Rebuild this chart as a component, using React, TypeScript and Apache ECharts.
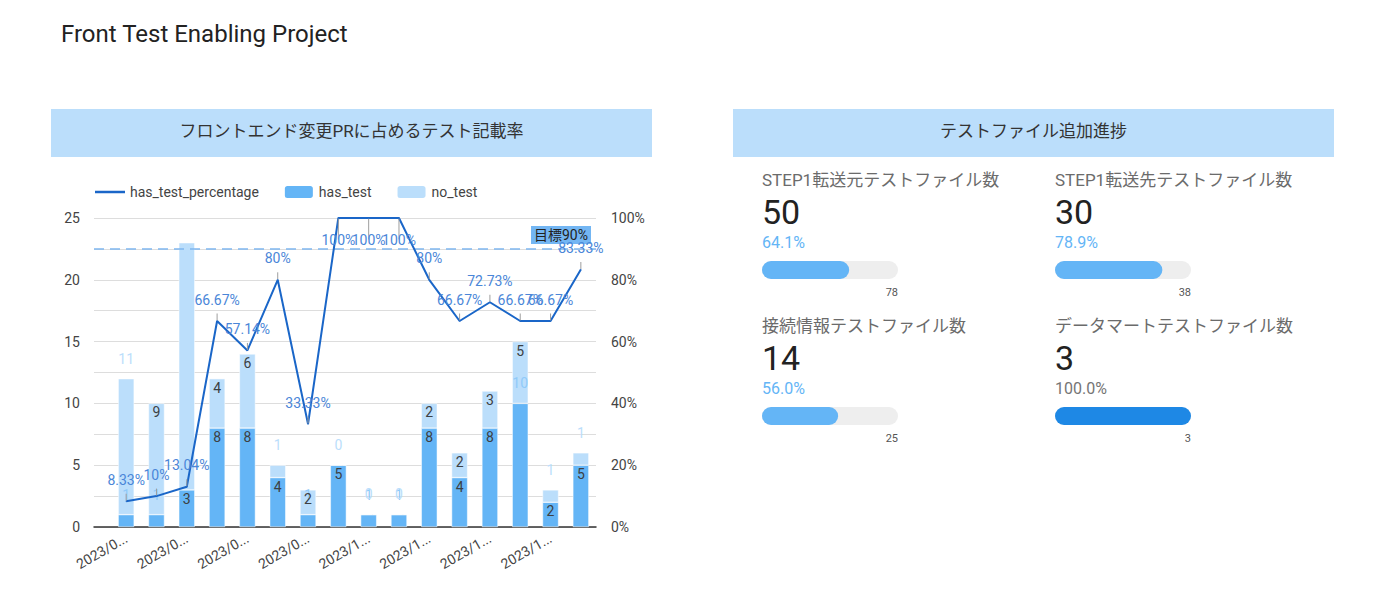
import React, { useEffect, useRef } from 'react';
import * as echarts from 'echarts';

// ---------- data ----------
const categories = [
  '2023/08/07', '2023/08/14', '2023/08/21', '2023/08/28',
  '2023/09/04', '2023/09/11', '2023/09/18', '2023/09/25',
  '2023/10/02', '2023/10/09', '2023/10/16', '2023/10/23',
  '2023/10/30', '2023/11/06', '2023/11/13', '2023/11/20',
];
const hasTest = [1, 1, 3, 8, 8, 4, 1, 5, 1, 1, 8, 4, 8, 10, 2, 5];
const noTest = [11, 9, 20, 4, 6, 1, 2, 0, 0, 0, 2, 2, 3, 5, 1, 1];
const hasTestPercentage = [8.33, 10, 13.04, 66.67, 57.14, 80, 33.33, 100, 100, 100, 80, 66.67, 72.73, 66.67, 66.67, 83.33];
const targetPercent = 90;
const countAxis = { min: 0, max: 25, step: 2.5, labelStep: 5 };
const percentAxis = { min: 0, max: 100, step: 10, labelStep: 20 };

const cardLabels = ['STEP1転送元テストファイル数', 'STEP1転送先テストファイル数', '接続情報テストファイル数', 'データマートテストファイル数'];
const cardValues = [50, 30, 14, 3];
const cardTargets = [78, 38, 25, 3];

const pageTitle = 'Front Test Enabling Project';
const leftHeader = 'フロントエンド変更PRに占めるテスト記載率';
const rightHeader = 'テストファイル追加進捗';
const targetLabel = '目標90%';

// ---------- style ----------
const FONT = "Roboto, 'Noto Sans CJK JP', sans-serif";
const C_HAS = '#64b5f6';
const C_NO = '#bbdefb';
const C_LINE = '#1a66c8';
const C_LINE_LABEL = '#4a86d8';
const C_HEADER = '#bbdefb';

function barItems(values: number[], outsideColor: string) {
  return values.map((v, i) => {
    const total = hasTest[i] + noTest[i];
    const fits = v >= 2 && v < 10;
    if (fits) {
      return {
        value: v,
        label: { show: true, position: 'insideTop', distance: 2, color: '#3c4043' },
      };
    }
    return {
      value: v,
      label: { show: total <= 21, position: 'top', distance: 13, color: outsideColor },
      labelLine: { show: total <= 21, lineStyle: { color: '#9e9e9e', width: 1 } },
    };
  });
}

function buildOption() {
  const cardCols = [762, 1055];
  const cardRowOffset = [0, 146];
  const cardGrids: any[] = [];
  const cardX: any[] = [];
  const cardY: any[] = [];
  const cardSeries: any[] = [];
  const cardTexts: any[] = [];

  cardValues.forEach((val, i) => {
    const x = cardCols[i % 2];
    const dy = cardRowOffset[Math.floor(i / 2)];
    const target = cardTargets[i];
    const ratio = val / target;
    const full = ratio >= 1;
    const g = 2 + i;
    cardGrids.push({ left: x, top: 261 + dy, width: 136, height: 18 });
    cardX.push({
      gridIndex: g, type: 'value', min: 0, max: target, interval: target,
      axisLine: { show: false }, axisTick: { show: false }, splitLine: { show: false },
      axisLabel: {
        formatter: (v: number) => (v === target ? String(v) : ''),
        align: 'right', margin: 8, fontSize: 11, color: '#555', fontFamily: FONT,
      },
    });
    cardY.push({ gridIndex: g, type: 'category', data: [''], show: false });
    cardSeries.push({
      type: 'bar', xAxisIndex: 2 + i, yAxisIndex: 4 + i, data: [val], barWidth: 18, silent: true,
      showBackground: true,
      backgroundStyle: { color: '#eeeeee', borderRadius: 9 },
      itemStyle: { color: full ? '#1e88e5' : C_HAS, borderRadius: 9 },
    });
    cardTexts.push(
      { type: 'text', left: x, top: 171 + dy, style: { text: cardLabels[i], font: `17px ${FONT}`, fill: '#6b6b6b' } },
      { type: 'text', left: x, top: 195 + dy, style: { text: String(val), font: `34px ${FONT}`, fill: '#222' } },
      { type: 'text', left: x, top: 234 + dy, style: { text: (ratio * 100).toFixed(1) + '%', font: `16px ${FONT}`, fill: full ? '#757575' : C_HAS } },
    );
  });

  return {
    animation: false,
    backgroundColor: '#ffffff',
    textStyle: { fontFamily: FONT },
    legend: {
      left: 95, top: 184, padding: 0, itemWidth: 30, itemHeight: 14, itemGap: 24,
      textStyle: { fontSize: 14, color: '#444', fontFamily: FONT },
      data: [
        { name: 'has_test_percentage', icon: 'path://M0,0L30,0L30,2.5L0,2.5Z' },
        'has_test',
        'no_test',
      ],
    },
    grid: [
      { left: 94, top: 218, width: 502, height: 309 },
      { left: 111, top: 218, width: 485, height: 309 },
      ...cardGrids,
    ],
    xAxis: [
      {
        gridIndex: 0, type: 'category', data: [''],
        axisLine: { show: true, lineStyle: { color: '#333', width: 1.5 } },
        axisTick: { show: false }, axisLabel: { show: false }, splitLine: { show: false },
      },
      {
        gridIndex: 1, type: 'category', data: categories,
        axisLine: { show: false }, axisTick: { show: false },
        axisLabel: {
          interval: 1, rotate: 30, margin: 10, fontSize: 14, color: '#444', fontFamily: FONT,
          formatter: (v: string) => v.slice(0, 6) + '...',
        },
      },
      ...cardX,
    ],
    yAxis: [
      {
        gridIndex: 0, type: 'value', min: countAxis.min, max: countAxis.max, interval: countAxis.step,
        axisLine: { show: false }, axisTick: { show: false },
        splitLine: { show: true, lineStyle: { color: '#dddddd', width: 1.2 } },
        axisLabel: {
          margin: 14, fontSize: 14, color: '#444', fontFamily: FONT,
          formatter: (v: number) => (v % countAxis.labelStep === 0 ? String(v) : ''),
        },
      },
      {
        gridIndex: 0, type: 'value', position: 'right', min: percentAxis.min, max: percentAxis.max, interval: percentAxis.step,
        axisLine: { show: false }, axisTick: { show: false }, splitLine: { show: false },
        axisLabel: {
          margin: 15, fontSize: 14, color: '#444', fontFamily: FONT,
          formatter: (v: number) => (v % percentAxis.labelStep === 0 ? v + '%' : ''),
        },
      },
      { gridIndex: 1, type: 'value', min: countAxis.min, max: countAxis.max, show: false },
      { gridIndex: 1, type: 'value', min: percentAxis.min, max: percentAxis.max, show: false, position: 'right' },
      ...cardY,
    ],
    series: [
      {
        name: 'target', type: 'line', xAxisIndex: 0, yAxisIndex: 1, data: [], silent: true,
        markLine: {
          symbol: 'none', silent: true,
          lineStyle: { type: [10, 6], color: '#7fb6ef', width: 1.5 },
          label: {
            position: 'insideEndTop', formatter: targetLabel, distance: 5,
            backgroundColor: '#73b6f3', color: '#222', fontSize: 14, padding: [2, 3], fontFamily: FONT,
          },
          data: [{ yAxis: targetPercent }],
        },
      },
      {
        name: 'has_test', type: 'bar', stack: 'pr', xAxisIndex: 1, yAxisIndex: 2, barWidth: 16,
        itemStyle: { color: C_HAS, borderColor: '#ffffff', borderWidth: 0.5 },
        label: { show: true, fontSize: 14, fontFamily: FONT },
        data: barItems(hasTest, '#90caf9'),
      },
      {
        name: 'no_test', type: 'bar', stack: 'pr', xAxisIndex: 1, yAxisIndex: 2, barWidth: 16,
        itemStyle: { color: C_NO, borderColor: '#ffffff', borderWidth: 0.5 },
        label: { show: true, fontSize: 14, fontFamily: FONT },
        data: barItems(noTest, C_NO),
      },
      {
        name: 'has_test_percentage', type: 'line', xAxisIndex: 1, yAxisIndex: 3, z: 5,
        symbol: 'circle', symbolSize: 1, showSymbol: true,
        lineStyle: { color: C_LINE, width: 2 }, itemStyle: { color: C_LINE },
        label: {
          show: true, distance: 14, color: C_LINE_LABEL, fontSize: 14, fontFamily: FONT,
          formatter: (p: any) => p.value + '%',
        },
        labelLine: { show: true, lineStyle: { color: '#9e9e9e', width: 1 } },
        data: hasTestPercentage.map((v) => ({ value: v, label: { position: v >= 100 ? 'bottom' : 'top' } })),
      },
      ...cardSeries,
    ],
    graphic: [
      { type: 'text', left: 61, top: 22, style: { text: pageTitle, font: `24px ${FONT}`, fill: '#222' } },
      { type: 'rect', shape: { x: 51, y: 109, width: 601, height: 48 }, style: { fill: C_HEADER } },
      { type: 'rect', shape: { x: 733, y: 109, width: 601, height: 48 }, style: { fill: C_HEADER } },
      {
        type: 'text', x: 351.5, y: 131,
        style: { text: leftHeader, font: `17px ${FONT}`, fill: '#333', align: 'center', verticalAlign: 'middle' },
      },
      {
        type: 'text', x: 1033.5, y: 131,
        style: { text: rightHeader, font: `17px ${FONT}`, fill: '#333', align: 'center', verticalAlign: 'middle' },
      },
      ...cardTexts,
    ],
  };
}

export default function App() {
  const ref = useRef<HTMLDivElement>(null);
  useEffect(() => {
    if (!ref.current) return;
    const chart = echarts.init(ref.current, undefined, { renderer: 'svg' });
    chart.setOption(buildOption() as any);
    return () => chart.dispose();
  }, []);
  return (
    <div
      ref={ref}
      style={{ position: 'fixed', left: 0, top: 0, width: 1400, height: 598, background: '#fff' }}
    />
  );
}
